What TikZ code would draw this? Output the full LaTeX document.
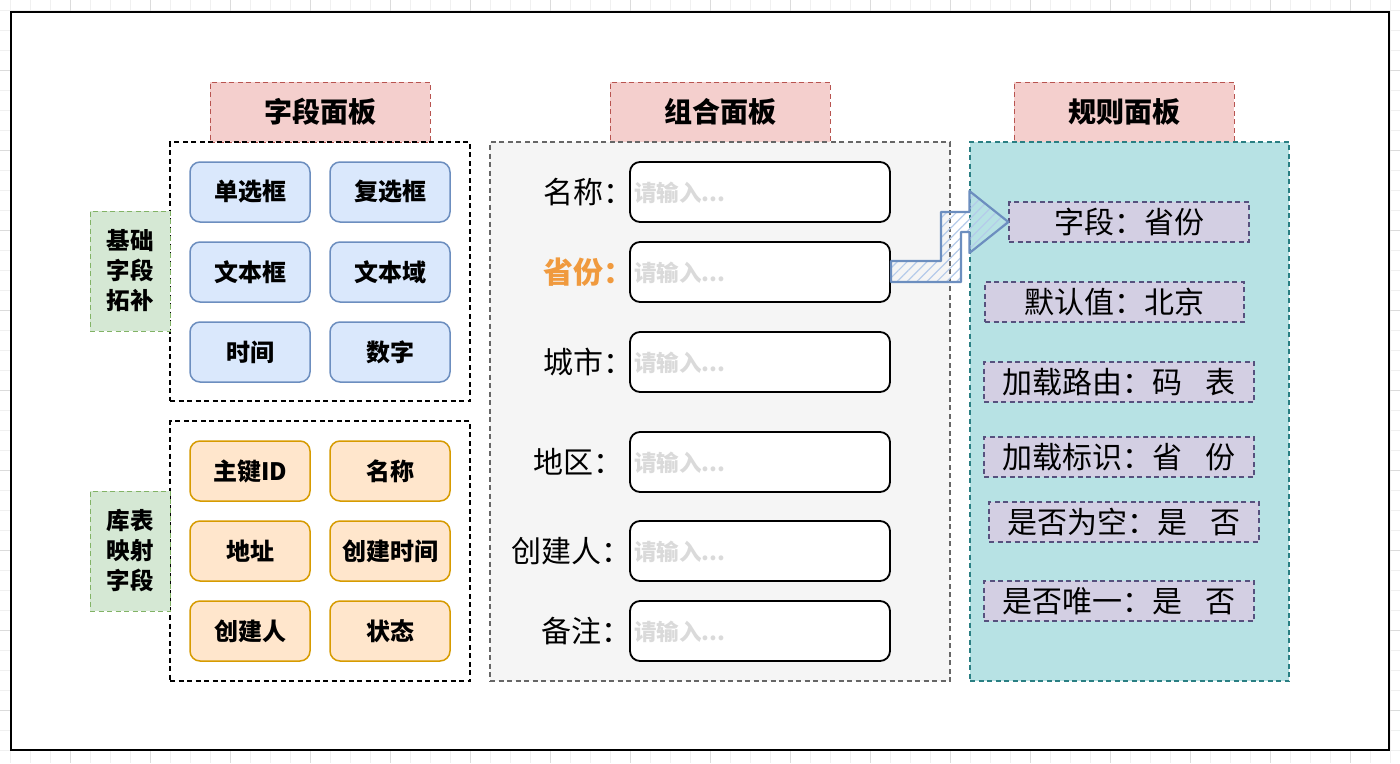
\documentclass[tikz,border=0pt]{standalone}
\usepackage{fontspec}
\setmainfont{Noto Sans CJK SC}
\usetikzlibrary{calc,patterns.meta}
\definecolor{hdrfill}{HTML}{F4CFCD}
\definecolor{hdrline}{HTML}{B85450}
\definecolor{bluefill}{HTML}{DAE8FC}
\definecolor{blueline}{HTML}{6C8EBF}
\definecolor{orfill}{HTML}{FFE6CC}
\definecolor{orline}{HTML}{D79B00}
\definecolor{grfill}{HTML}{D5E8D4}
\definecolor{grline}{HTML}{82B366}
\definecolor{midfill}{HTML}{F5F5F5}
\definecolor{midline}{HTML}{666666}
\definecolor{tealfill}{HTML}{B7E2E4}
\definecolor{tealline}{HTML}{2A7F83}
\definecolor{rulefill}{HTML}{D3CFE3}
\definecolor{ruleline}{HTML}{56517E}
\definecolor{orangetxt}{HTML}{F09A3E}
\definecolor{phtxt}{HTML}{DADADA}
\definecolor{gridc}{HTML}{F0F0F0}
\definecolor{arrhatch}{HTML}{B5CBEA}
\newcommand{\colx}{：\kern-0.5em\null}
\tikzset{
  dsh/.style={dash pattern=on 5pt off 3.5pt},
  hdr/.style={rectangle, draw=hdrline, fill=hdrfill, dsh, line width=1pt, minimum width=220, minimum height=60, inner sep=0pt, font=\bfseries\fontsize{28}{32}\selectfont},
  grp/.style={rectangle, draw=black, dsh, line width=1.5pt, inner sep=0pt},
  bbtn/.style={rectangle, rounded corners=10pt, draw=blueline, fill=bluefill, line width=1.5pt, minimum width=120, minimum height=60, inner sep=0pt, font=\bfseries\fontsize{24}{28}\selectfont},
  obtn/.style={bbtn, draw=orline, fill=orfill},
  side/.style={rectangle, draw=grline, fill=grfill, dsh, line width=1pt, minimum width=80, minimum height=120, inner sep=0pt, align=center, font=\bfseries\fontsize{23.5}{30}\selectfont},
  inbox/.style={rectangle, rounded corners=10pt, draw=black, fill=white, line width=1.8pt, minimum width=260, minimum height=60, inner sep=0pt},
  ph/.style={anchor=west, inner sep=0pt, text=phtxt, font=\bfseries\fontsize{22.5}{26}\selectfont},
  lbl/.style={anchor=east, inner sep=0pt, font=\fontsize{30}{34}\selectfont},
  rule/.style={rectangle, draw=ruleline, fill=rulefill, dsh, line width=1.2pt, minimum height=40, inner sep=0pt, font=\fontsize{30}{34}\selectfont},
  arr/.style={draw=blueline, line width=2.2pt, line join=round, pattern={Lines[angle=45,distance=7pt,line width=1.2pt]}, pattern color=arrhatch}
}
\begin{document}
\begin{tikzpicture}[x=1pt,y=-1pt]
\useasboundingbox (0,0) rectangle (1400,763);
% background grid
\foreach \gx in {10,30,...,1400} \draw[gridc, line width=0.8pt] (\gx,0) -- (\gx,763);
\foreach \gy in {10,30,...,763} \draw[gridc, line width=0.8pt] (0,\gy) -- (1400,\gy);
\foreach \gx in {70,150,...,1400} \draw[black!14, line width=0.8pt] (\gx,0) -- (\gx,763);
\foreach \gy in {70,150,...,763} \draw[black!14, line width=0.8pt] (0,\gy) -- (1400,\gy);
\node[draw=black, fill=white, line width=2.5pt, minimum width=1378, minimum height=738, inner sep=0pt] (frame) at (700,381) {};

% headers
\node[hdr] (h1) at (320,112) {字段面板};
\node[hdr] (h2) at (720,112) {组合面板};
\node[hdr] (h3) at (1124,112) {规则面板};

% left groups
\node[grp, minimum width=300, minimum height=259] (g1) at (320,271.5) {};
\node[grp, minimum width=300, minimum height=260] (g2) at (320,551) {};
\node[side] (s1) at (130,271) {基础\\字段\\拓补};
\node[side] (s2) at (130,551) {库表\\映射\\字段};

\node[bbtn] (b1) at (250,192) {单选框};
\node[bbtn] (b2) at (390,192) {复选框};
\node[bbtn] (b3) at (250,272) {文本框};
\node[bbtn] (b4) at (390,272) {文本域};
\node[bbtn] (b5) at (250,352) {时间};
\node[bbtn] (b6) at (390,352) {数字};

\node[obtn] (o1) at (250,471) {主键ID};
\node[obtn] (o2) at (390,471) {名称};
\node[obtn] (o3) at (250,551) {地址};
\node[obtn] (o4) at (390,551) {创建时间};
\node[obtn] (o5) at (250,631) {创建人};
\node[obtn] (o6) at (390,631) {状态};

% middle panel
\node[rectangle, draw=midline, fill=midfill, dsh, line width=1.2pt, minimum width=460, minimum height=539, inner sep=0pt] (mid) at (720,411.5) {};
\node[inbox] (in1) at (760,192) {};
\node[inbox] (in2) at (760,272) {};
\node[inbox] (in3) at (760,362) {};
\node[inbox] (in4) at (760,462) {};
\node[inbox] (in5) at (760,551) {};
\node[inbox] (in6) at (760,631) {};
\foreach \i/\yy in {1/193,2/273,3/363,4/463,5/552,6/632}
  \node[ph] (ph\i) at (634,\yy) {请输入...};
\node[lbl] (l1) at (619,192) {名称\colx};
\node[lbl, text=orangetxt, font=\bfseries\fontsize{30}{34}\selectfont] (l2) at (619,272) {省份\colx};
\node[lbl] (l3) at (619,362) {城市\colx};
\node[lbl] (l4) at (609,462) {地区\colx};
\node[lbl] (l5) at (617,551) {创建人\colx};
\node[lbl] (l6) at (617,631) {备注\colx};

% right panel
\node[rectangle, draw=tealline, fill=tealfill, dsh, line width=1.2pt, minimum width=319, minimum height=539, inner sep=0pt] (rp) at (1129.5,411.5) {};
\node[rule, minimum width=240] (r1) at (1129,222) {字段：省份};
\node[rule, minimum width=259] (r2) at (1114.5,302) {默认值：北京};
\node[rule, minimum width=270] (r3) at (1119,382) {加载路由：码\hspace{0.75em}表};
\node[rule, minimum width=270] (r4) at (1119,457) {加载标识：省\hspace{0.75em}份};
\node[rule, minimum width=270] (r5) at (1124,522) {是否为空：是\hspace{0.75em}否};
\node[rule, minimum width=270] (r6) at (1119,601) {是否唯一：是\hspace{0.75em}否};

% arrow from 省份 input to rule 字段
\draw[arr] ($(in2.east)+(0,-11)$) -- ($(in2.east)+(50,-11)$) |- ($(r1.west)+(-39,-10)$)
  -- ($(r1.west)+(-39,-31)$) -- (r1.west) -- ($(r1.west)+(-39,31)$) -- ($(r1.west)+(-39,10)$)
  -| ($(in2.east)+(70,10)$) -- ($(in2.east)+(0,10)$) -- cycle;
\end{tikzpicture}
\end{document}
